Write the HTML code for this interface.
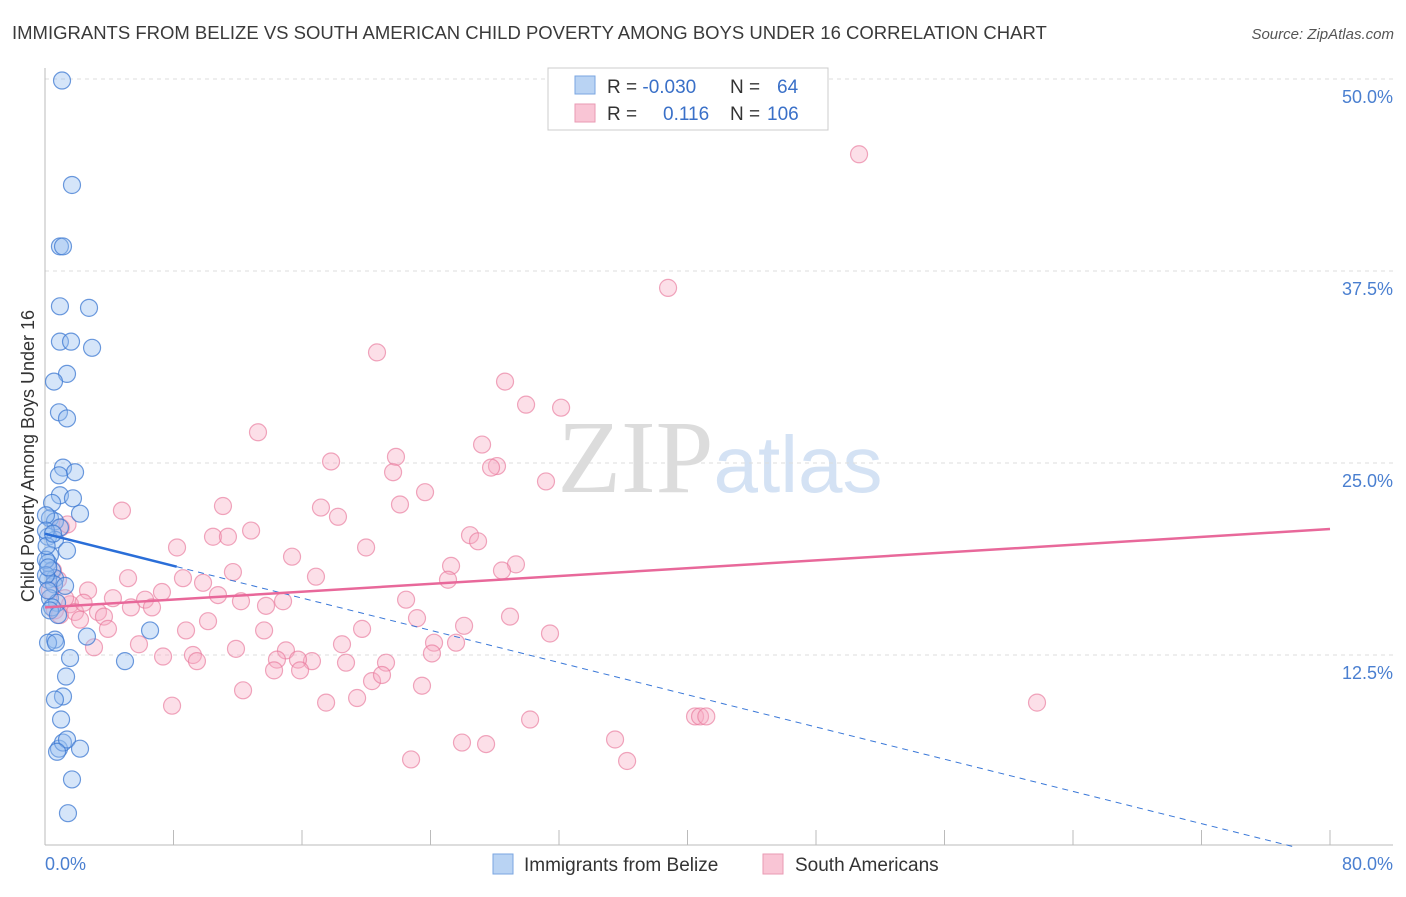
<!DOCTYPE html>
<html><head><meta charset="utf-8"><style>
body{margin:0;background:#fff;font-family:"Liberation Sans",sans-serif;}
svg text{font-family:"Liberation Sans",sans-serif;}
</style></head><body>
<svg id="chart" width="1406" height="892" xmlns="http://www.w3.org/2000/svg">
<text x="12" y="39" font-size="18.5" fill="#3a3a3a">IMMIGRANTS FROM BELIZE VS SOUTH AMERICAN CHILD POVERTY AMONG BOYS UNDER 16 CORRELATION CHART</text>
<text x="1394" y="39" font-size="15" fill="#555" text-anchor="end" font-style="italic">Source: ZipAtlas.com</text>
<text x="720" y="492" font-size="104" fill="#e4e4e4" text-anchor="middle" font-family="Liberation Serif"><tspan font-family="Liberation Serif" fill="#dcdcdc">ZIP</tspan><tspan font-family="Liberation Sans" fill="#d4e2f4" font-size="80">atlas</tspan></text>
<g id="grid"></g>
<g id="axes"></g>
<g id="marks"></g>
<text transform="translate(34,456) rotate(-90)" font-size="18" fill="#333" text-anchor="middle">Child Poverty Among Boys Under 16</text>
<text x="45" y="870" font-size="18" fill="#4a7fd0">0.0%</text>
<text x="1393" y="870" font-size="18" fill="#4a7fd0" text-anchor="end">80.0%</text>
<g>
<rect x="548" y="68" width="280" height="62" fill="#fff" stroke="#ccc"/>
<rect x="575" y="76" width="20" height="18" fill="#b9d3f3" stroke="#7aa6e0"/>
<rect x="575" y="104" width="20" height="18" fill="#f9c5d5" stroke="#e99ab3"/>
<text x="607" y="93" font-size="19" fill="#333">R = <tspan fill="#3a70c8">-0.030</tspan><tspan x="730">N = </tspan><tspan x="777" fill="#3a70c8">64</tspan></text>
<text x="607" y="120" font-size="19" fill="#333">R = <tspan x="663" fill="#3a70c8">0.116</tspan><tspan x="730">N = </tspan><tspan x="767" fill="#3a70c8">106</tspan></text>
</g>
<g>
<rect x="493" y="854" width="20" height="20" fill="#b9d3f3" stroke="#7aa6e0"/>
<text x="524" y="871" font-size="19" fill="#333">Immigrants from Belize</text>
<rect x="763" y="854" width="20" height="20" fill="#f9c5d5" stroke="#e99ab3"/>
<text x="795" y="871" font-size="19" fill="#333">South Americans</text>
</g>
</svg>
<script>
const yTicks=[12.5,25,37.5,50];
const yTickLabels=["12.5%","25.0%","37.5%","50.0%"];
const belizeX=[1.06,1.68,0.93,1.12,0.93,2.74,0.93,1.62,2.93,1.37,0.56,0.87,1.37,1.12,1.87,0.87,0.93,1.74,0.44,2.18,0.31,0.62,0.93,0.19,0.62,1.37,0.31,0.19,0.44,0.62,0.19,0.56,1.25,0.31,0.75,0.44,0.62,0.19,0.68,2.61,6.54,4.98,1.56,1.31,1.12,0.62,1.0,0.87,1.12,1.37,2.18,0.75,1.68,1.43,0.06,0.06,0.06,0.06,0.19,0.31,0.81,0.1,0.2,0.5];
const belizeY=[49.9,43.1,39.1,39.1,35.2,35.1,32.9,32.9,32.5,30.8,30.3,28.3,27.9,24.7,24.4,24.2,22.9,22.7,22.4,21.7,21.4,21.2,20.8,20.2,20.0,19.3,19.0,18.5,18.0,17.5,17.4,17.1,17.0,16.2,15.9,15.6,13.5,13.3,13.3,13.7,14.1,12.1,12.3,11.1,9.8,9.6,8.3,6.4,6.8,7.0,6.4,6.2,4.4,2.2,21.6,20.6,18.7,17.7,16.7,15.4,15.1,19.6,18.2,20.4];
const southX=[50.68,38.79,20.67,28.64,29.95,32.13,13.26,27.21,21.85,17.81,28.14,27.77,21.67,31.19,23.66,11.08,4.79,17.18,22.10,18.24,12.83,10.46,11.39,26.46,26.96,8.22,19.99,15.38,25.28,29.32,28.45,11.70,5.17,8.59,16.87,25.09,9.84,2.68,7.28,10.77,4.23,6.23,22.48,12.20,14.82,13.76,5.35,6.66,3.30,3.67,23.16,28.95,10.15,3.92,8.78,13.64,19.74,26.09,31.44,5.85,3.05,11.89,15.00,18.49,24.22,25.59,24.09,7.35,9.21,16.62,9.46,14.44,15.75,18.74,21.23,14.26,15.88,20.36,20.98,23.47,12.33,19.43,17.50,7.91,61.76,30.20,40.47,40.78,41.17,35.49,25.96,27.46,22.79,36.24,0.62,0.93,1.56,1.87,1.25,2.18,0.31,0.81,0.5,1.0,1.4,2.4];
const southY=[45.1,36.4,32.2,30.3,28.8,28.6,27.0,26.2,25.4,25.1,24.8,24.7,24.4,23.8,23.1,22.2,21.9,22.1,22.3,21.5,20.6,20.2,20.2,20.3,19.9,19.5,19.5,18.9,18.3,18.4,18.0,17.9,17.5,17.5,17.6,17.4,17.2,16.7,16.6,16.4,16.2,16.1,16.1,16.0,16.0,15.7,15.6,15.6,15.3,15.0,14.9,15.0,14.7,14.2,14.1,14.1,14.2,14.4,13.9,13.2,13.0,12.9,12.8,13.2,13.3,13.3,12.6,12.4,12.5,12.1,12.1,12.2,12.2,12.0,12.0,11.5,11.5,10.8,11.2,10.5,10.2,9.7,9.4,9.2,9.4,8.3,8.5,8.5,8.5,7.0,6.8,6.7,5.7,5.6,15.4,15.1,15.8,15.3,16.2,14.8,16.7,17.4,18.0,20.8,21.0,15.9];
const belizeTrend=[20.4,0];
const belizeTrendX=[0,77.8];
const belizeSolidEndX=8.2;
const southTrend=[15.6,20.7];
const southTrendX=[0,80];

const NS="http://www.w3.org/2000/svg";
const X=v=>45+v/80*1285;
const Y=v=>847-v*15.36;
function mk(tag,attrs,parent){const e=document.createElementNS(NS,tag);for(const k in attrs)e.setAttribute(k,attrs[k]);parent.appendChild(e);return e;}
const grid=document.getElementById('grid'),axes=document.getElementById('axes'),marks=document.getElementById('marks');
yTicks.forEach((t,i)=>{
  const l=mk('line',{x1:45,x2:1393,y1:Y(t),y2:Y(t),stroke:'#ddd','stroke-dasharray':'4,4'},grid);
  
  
  const tx=mk('text',{x:1393,y:Y(t)+24,'font-size':18,fill:'#4a7fd0','text-anchor':'end'},grid);
  tx.textContent=yTickLabels[i];
  
  
});
const ax=mk('line',{x1:45,x2:1393,y1:845,y2:845,stroke:'#bbb'},axes);


const ay=mk('line',{x1:45,x2:45,y1:68,y2:845,stroke:'#bbb'},axes);


for(let i=1;i<=10;i++){
  const t=mk('line',{x1:X(i*8),x2:X(i*8),y1:830,y2:845,stroke:'#bbb'},axes);
  
  
}
southX.forEach((x,i)=>{
  const c=mk('circle',{cx:X(x),cy:Y(southY[i]),r:8.5,fill:'rgba(246,170,195,0.38)',stroke:'rgba(232,120,155,0.65)','stroke-width':1.2},marks);
  
  
});
belizeX.forEach((x,i)=>{
  const c=mk('circle',{cx:X(x),cy:Y(belizeY[i]),r:8.5,fill:'rgba(150,190,240,0.4)',stroke:'rgba(60,120,210,0.75)','stroke-width':1.2},marks);
  
  
});
const bAt=x=>belizeTrend[0]+(belizeTrend[1]-belizeTrend[0])*(x-belizeTrendX[0])/(belizeTrendX[1]-belizeTrendX[0]);
const bd=mk('line',{x1:X(belizeSolidEndX),y1:Y(bAt(belizeSolidEndX)),x2:X(belizeTrendX[1]),y2:Y(belizeTrend[1]),stroke:'#3a78d8','stroke-width':1,'stroke-dasharray':'6,5'},marks);


const bs=mk('line',{x1:X(belizeTrendX[0]),y1:Y(belizeTrend[0]),x2:X(belizeSolidEndX),y2:Y(bAt(belizeSolidEndX)),stroke:'#2a6ed8','stroke-width':2.5},marks);


const sl=mk('line',{x1:X(southTrendX[0]),y1:Y(southTrend[0]),x2:X(southTrendX[1]),y2:Y(southTrend[1]),stroke:'#e8689a','stroke-width':2.5},marks);


</script>
</body></html>
